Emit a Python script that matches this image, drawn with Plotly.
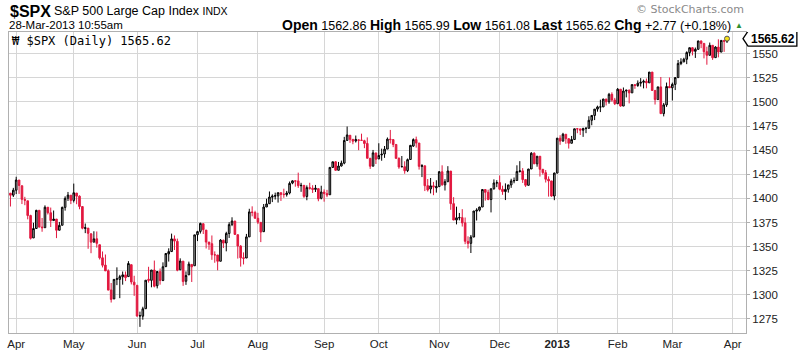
import pandas as pd
import plotly.graph_objects as go

# ---------------- data (S&P 500 daily, 29-Mar-2012 .. 28-Mar-2013) ----------------
start_date = "2012-03-29"
end_date = "2013-03-28"
holidays = ["2012-04-06", "2012-05-28", "2012-07-04", "2012-09-03", "2012-10-29",
            "2012-10-30", "2012-11-22", "2012-12-25", "2013-01-01", "2013-01-21",
            "2013-02-18"]
prev_close_start = 1405.54

opens = [
 1405.39,1403.31,1408.47,1418.98,1413.09,1398.79,1397.45,1382.18,1358.98,1368.77,
 1387.61,1370.27,1369.57,1390.78,1385.08,1376.96,1378.53,1366.97,1372.11,1390.64,
 1400.19,1403.26,1397.86,1405.50,1402.32,1391.51,1368.79,1369.16,1363.20,1354.58,
 1358.11,1351.93,1338.36,1330.78,1324.82,1305.05,1295.73,1316.09,1316.02,1318.72,
 1320.64,1318.90,1331.25,1313.09,1309.87,1278.29,1277.82,1285.61,1316.15,1314.99,
 1325.72,1309.40,1324.02,1314.88,1329.19,1342.42,1344.83,1357.98,1355.43,1325.92,
 1334.90,1314.09,1320.71,1331.52,1330.12,1362.33,1365.75,1373.72,1367.09,1354.66,
 1352.96,1341.40,1341.29,1334.81,1356.50,1353.68,1363.58,1373.01,1376.51,1362.34,
 1350.52,1338.35,1338.17,1360.05,1385.94,1385.27,1379.32,1375.13,1365.45,1391.04,
 1394.46,1401.23,1402.26,1402.58,1405.87,1404.36,1403.89,1405.57,1415.84,1417.85,
 1418.13,1413.09,1413.49,1401.99,1411.13,1410.44,1409.32,1410.08,1400.07,1406.54,
 1404.94,1403.74,1432.12,1437.92,1429.13,1433.56,1436.56,1460.07,1465.42,1461.19,
 1459.50,1460.56,1460.34,1459.76,1456.94,1441.60,1433.36,1447.13,1440.90,1444.99,
 1446.05,1451.08,1461.40,1460.93,1455.90,1441.48,1432.82,1432.84,1428.75,1440.31,
 1454.22,1460.94,1457.34,1433.21,1433.74,1413.20,1409.74,1412.97,1410.99,1412.20,
 1427.59,1414.02,1417.26,1428.27,1394.53,1377.55,1379.86,1380.03,1374.64,1355.41,
 1353.36,1359.88,1386.82,1387.79,1391.03,1409.15,1406.29,1398.77,1409.96,1415.95,
 1416.34,1409.46,1407.05,1409.43,1413.95,1418.07,1418.55,1427.84,1428.48,1419.45,
 1413.54,1430.47,1446.79,1435.81,1443.67,1430.15,1426.66,1419.83,1418.10,1402.43,
 1426.19,1462.42,1459.37,1466.47,1461.89,1457.15,1461.02,1472.12,1472.05,1470.67,
 1472.33,1472.63,1480.95,1485.98,1492.56,1494.81,1494.82,1502.96,1500.18,1507.84,
 1501.96,1498.11,1513.17,1495.71,1511.29,1512.12,1509.39,1517.93,1517.01,1519.43,
 1520.33,1521.38,1519.79,1530.94,1511.95,1502.42,1515.60,1487.85,1496.94,1515.99,
 1514.68,1518.20,1525.20,1539.79,1541.46,1544.26,1551.15,1556.22,1552.48,1554.52,
 1563.21,1560.70,1552.10,1548.34,1558.71,1545.90,1556.89,1551.69,1563.75,1562.86]

highs = [
 1405.39,1410.89,1422.38,1419.00,1413.09,1401.60,1397.45,1383.01,1374.71,1388.13,
 1387.61,1379.66,1392.76,1390.78,1390.46,1387.40,1378.53,1375.57,1391.37,1402.09,
 1406.64,1403.26,1415.32,1405.50,1403.07,1391.51,1373.91,1369.16,1363.73,1365.88,
 1365.66,1351.93,1344.94,1341.78,1326.36,1312.24,1316.39,1328.49,1320.71,1324.14,
 1324.20,1334.93,1331.25,1319.74,1309.87,1282.55,1287.62,1315.13,1329.05,1325.81,
 1335.52,1324.31,1327.28,1333.68,1343.32,1348.22,1363.46,1361.57,1358.27,1337.82,
 1334.90,1324.24,1334.40,1331.52,1362.17,1366.35,1374.81,1373.85,1367.09,1354.87,
 1361.54,1345.00,1341.29,1357.70,1357.26,1365.36,1375.26,1380.39,1376.51,1362.34,
 1351.53,1343.98,1363.13,1389.19,1391.74,1387.16,1385.03,1375.13,1394.16,1399.63,
 1407.14,1404.14,1405.95,1405.98,1405.87,1410.03,1407.73,1417.44,1418.71,1418.13,
 1426.68,1416.12,1413.49,1413.46,1416.17,1413.63,1413.95,1410.08,1413.09,1409.31,
 1408.81,1432.12,1437.92,1438.74,1437.76,1439.15,1463.76,1474.51,1465.63,1461.47,
 1465.15,1461.23,1467.07,1460.72,1463.24,1441.60,1450.20,1447.13,1457.14,1451.52,
 1454.30,1463.14,1470.96,1460.93,1455.90,1442.52,1443.90,1438.43,1441.31,1455.51,
 1462.20,1464.02,1457.34,1435.46,1433.74,1420.04,1421.12,1417.09,1418.76,1428.35,
 1434.27,1419.90,1433.38,1428.27,1401.23,1391.39,1384.87,1388.81,1380.13,1360.62,
 1362.03,1386.89,1389.77,1391.25,1409.16,1409.15,1409.01,1410.31,1419.70,1418.86,
 1423.73,1413.14,1415.56,1413.95,1420.34,1421.64,1434.27,1438.59,1431.36,1419.45,
 1430.67,1448.00,1447.75,1443.70,1443.67,1430.15,1429.42,1422.80,1418.10,1426.74,
 1462.43,1465.47,1467.94,1466.47,1461.89,1464.73,1472.30,1472.75,1472.05,1473.31,
 1473.96,1485.16,1485.98,1492.56,1496.13,1502.27,1503.26,1503.23,1509.35,1509.94,
 1504.19,1514.41,1513.17,1514.96,1512.53,1512.90,1518.31,1518.31,1522.29,1524.69,
 1523.14,1524.24,1530.94,1530.94,1511.95,1515.64,1525.84,1498.99,1520.08,1525.34,
 1519.99,1525.27,1543.47,1545.25,1545.78,1552.48,1556.27,1556.77,1556.39,1563.32,
 1563.62,1560.70,1557.25,1561.56,1558.71,1557.74,1564.91,1563.95,1564.07,1565.99]

lows = [
 1391.56,1401.42,1404.46,1404.62,1394.09,1392.92,1378.24,1357.38,1358.98,1368.77,
 1369.85,1365.38,1369.57,1383.29,1370.30,1376.96,1358.79,1366.82,1372.11,1387.28,
 1397.31,1394.00,1395.73,1393.92,1388.71,1367.96,1363.94,1347.75,1343.13,1354.58,
 1348.89,1336.61,1328.41,1324.79,1304.86,1291.98,1295.73,1310.04,1296.53,1310.50,
 1314.23,1318.90,1310.76,1298.90,1277.25,1266.74,1274.16,1285.61,1312.68,1307.77,
 1307.73,1306.62,1310.51,1314.14,1329.19,1334.46,1344.83,1346.45,1324.41,1325.92,
 1309.27,1310.30,1320.71,1313.29,1330.12,1355.70,1363.53,1363.02,1348.03,1346.65,
 1336.27,1333.25,1325.41,1334.81,1348.51,1345.07,1358.96,1371.21,1362.19,1337.56,
 1329.24,1331.50,1338.17,1360.05,1381.37,1379.17,1373.35,1354.65,1365.45,1391.04,
 1394.46,1396.13,1398.80,1395.62,1397.32,1400.60,1401.83,1404.15,1414.67,1412.12,
 1410.86,1406.78,1400.50,1398.04,1409.11,1405.59,1406.57,1397.01,1398.96,1396.56,
 1401.25,1403.74,1431.45,1428.98,1429.13,1432.99,1435.34,1460.07,1457.55,1456.13,
 1457.88,1449.98,1459.51,1452.06,1441.59,1430.53,1433.36,1435.60,1440.90,1439.01,
 1441.99,1451.08,1456.89,1453.10,1441.18,1430.64,1432.82,1425.53,1427.24,1440.31,
 1453.35,1452.63,1429.85,1422.06,1407.56,1407.10,1405.14,1403.28,1405.95,1412.20,
 1412.91,1408.13,1417.26,1388.14,1377.51,1373.03,1377.19,1370.78,1352.50,1348.05,
 1343.35,1359.88,1377.04,1386.39,1391.03,1397.68,1398.03,1385.43,1409.04,1411.63,
 1408.46,1403.65,1398.23,1405.93,1410.90,1415.64,1418.55,1426.76,1416.00,1411.88,
 1413.54,1430.47,1435.80,1432.82,1422.58,1424.66,1416.43,1401.80,1401.58,1398.11,
 1426.19,1455.53,1458.99,1456.62,1451.64,1457.15,1461.02,1467.58,1465.69,1463.76,
 1467.60,1472.63,1475.81,1481.16,1489.90,1489.46,1494.82,1496.33,1498.09,1500.11,
 1496.76,1498.11,1495.02,1495.71,1504.71,1498.49,1509.39,1513.61,1515.61,1515.93,
 1514.02,1514.14,1519.79,1511.41,1497.29,1502.42,1487.85,1485.01,1494.88,1514.46,
 1501.48,1512.29,1525.20,1538.11,1541.46,1539.19,1547.36,1548.24,1545.59,1554.52,
 1555.74,1545.13,1538.57,1548.34,1543.55,1545.90,1546.22,1551.69,1551.90,1561.08]

closes = [
 1403.28,1408.47,1419.04,1413.38,1398.96,1398.08,1382.20,1358.59,1368.71,1387.57,
 1370.26,1369.57,1390.78,1385.14,1376.92,1378.53,1366.94,1371.97,1390.69,1399.98,
 1403.36,1397.91,1405.82,1402.31,1391.57,1369.10,1369.58,1363.72,1354.58,1357.99,
 1353.39,1338.35,1330.66,1324.80,1304.86,1295.22,1315.99,1316.63,1318.86,1320.68,
 1317.82,1332.42,1313.32,1310.33,1278.04,1278.18,1285.50,1315.13,1314.99,1325.66,
 1308.93,1324.18,1314.88,1329.10,1342.84,1344.78,1357.98,1355.69,1325.51,1335.02,
 1313.72,1319.99,1331.85,1329.04,1362.16,1365.51,1374.02,1367.58,1354.68,1352.46,
 1341.47,1341.45,1334.76,1356.78,1353.64,1363.67,1372.78,1376.51,1362.66,1350.52,
 1338.31,1337.89,1360.02,1385.97,1385.30,1379.32,1375.32,1365.00,1390.99,1394.23,
 1401.35,1402.22,1402.80,1405.87,1404.11,1403.93,1405.53,1415.51,1418.16,1418.13,
 1413.17,1413.49,1402.08,1411.13,1410.44,1409.30,1410.49,1399.48,1406.58,1404.94,
 1403.44,1432.12,1437.92,1429.08,1433.56,1436.56,1459.99,1465.77,1461.19,1459.32,
 1461.05,1460.26,1460.15,1456.89,1441.59,1433.32,1447.15,1440.67,1444.49,1445.75,
 1450.99,1461.40,1460.93,1455.88,1441.48,1432.56,1432.84,1428.59,1440.13,1454.92,
 1460.91,1457.34,1433.19,1433.82,1413.11,1408.75,1412.97,1411.94,1412.16,1427.59,
 1414.20,1417.26,1428.39,1394.53,1377.51,1379.85,1380.03,1374.53,1355.49,1353.33,
 1359.88,1386.89,1387.81,1391.03,1409.15,1406.29,1398.94,1409.93,1415.95,1416.18,
 1409.46,1407.05,1409.28,1413.94,1418.07,1418.55,1427.84,1428.48,1419.45,1413.58,
 1430.36,1446.79,1435.81,1443.69,1430.15,1426.66,1419.83,1418.10,1402.43,1426.19,
 1462.42,1459.37,1466.47,1461.89,1457.15,1461.02,1472.12,1472.05,1470.68,1472.34,
 1472.63,1480.94,1485.98,1492.56,1494.81,1494.82,1502.96,1500.18,1507.84,1501.96,
 1498.11,1513.17,1495.71,1511.29,1512.12,1509.39,1517.93,1517.01,1519.43,1520.33,
 1521.38,1519.79,1530.94,1511.95,1502.42,1515.60,1487.85,1496.94,1515.99,1514.68,
 1518.20,1525.20,1539.79,1541.46,1544.26,1551.18,1556.22,1552.48,1554.52,1563.23,
 1560.70,1552.10,1548.34,1558.71,1545.80,1556.89,1551.69,1563.77,1562.85,1565.62]

month_labels = ["Apr", "May", "Jun", "Jul", "Aug", "Sep", "Oct", "Nov", "Dec",
                "<b>2013</b>", "Feb", "Mar", "Apr"]
y_ticks = [1275, 1300, 1325, 1350, 1375, 1400, 1425, 1450, 1475, 1500, 1525, 1550]

# ---------------- derived ----------------
bdays = pd.bdate_range(start_date, "2013-04-05")
bdays = bdays[~bdays.isin(pd.to_datetime(holidays))]
all_days = list(bdays)
dates = [d for d in all_days if d <= pd.Timestamp(end_date)]
n = len(closes)
assert len(dates) == n == len(opens) == len(highs) == len(lows)
idx = list(range(n))

# first trading day of each month (after the partial first month)
tickvals = [i for i in range(1, len(all_days)) if all_days[i].month != all_days[i - 1].month]
tickvals = tickvals[:len(month_labels)]

prev = [prev_close_start] + closes[:-1]
up = [i for i in idx if closes[i] >= prev[i]]
dn = [i for i in idx if closes[i] < prev[i]]

RED = "#e2183f"

def sub(lst, ii):
    return [lst[i] for i in ii]

fig = go.Figure()
fig.add_trace(go.Candlestick(
    x=up, open=sub(opens, up), high=sub(highs, up), low=sub(lows, up), close=sub(closes, up),
    increasing=dict(line=dict(color="#000000", width=1), fillcolor="#a8a8a8"),
    decreasing=dict(line=dict(color="#000000", width=1), fillcolor="#000000"),
    whiskerwidth=0, showlegend=False, hoverinfo="skip"))
fig.add_trace(go.Candlestick(
    x=dn, open=sub(opens, dn), high=sub(highs, dn), low=sub(lows, dn), close=sub(closes, dn),
    increasing=dict(line=dict(color=RED, width=1), fillcolor="#f3a3b3"),
    decreasing=dict(line=dict(color=RED, width=1), fillcolor=RED),
    whiskerwidth=0, showlegend=False, hoverinfo="skip"))
fig.add_trace(go.Scatter(x=[idx[-1]], y=[closes[-1]], mode="markers",
                         marker=dict(color="#f5e11a", size=5, line=dict(color="#555", width=1)),
                         showlegend=False, hoverinfo="skip"))

L, R, T, B = 7, 746, 32, 337
W, H = 800, 357

def xp(px):
    return (px - L) / (R - L)

def yp(py):
    return (B - py) / (B - T)

font = "Liberation Sans, Arial, sans-serif"
ann = [
    dict(x=xp(6), y=yp(11), text="<b>$SPX</b>", font=dict(size=16, color="#000", family=font),
         xanchor="left", yanchor="middle"),
    dict(x=xp(50), y=yp(11), text="S&amp;P 500 Large Cap Index <span style='font-size:10.5px'>INDX</span>",
         font=dict(size=12.5, color="#000", family=font), xanchor="left", yanchor="middle"),
    dict(x=xp(5), y=yp(25), text="28-Mar-2013 10:55am", font=dict(size=11.5, color="#000", family=font),
         xanchor="left", yanchor="middle"),
    dict(x=xp(733), y=yp(25),
         text="<b style='font-size:14px'>Open</b> 1562.86 <b style='font-size:14px'>High</b> 1565.99 "
              "<b style='font-size:14px'>Low</b> 1561.08 <b style='font-size:14px'>Last</b> 1565.62 "
              "<b style='font-size:14px'>Chg</b> +2.77 (+0.18%)",
         font=dict(size=12.5, color="#000", family=font), xanchor="right", yanchor="middle"),
    dict(x=xp(739), y=yp(25), text="▲", font=dict(size=8, color="#2f8f2f", family=font),
         xanchor="center", yanchor="middle"),
    dict(x=xp(746), y=yp(9), text="© StockCharts.com", font=dict(size=11, color="#8a8a8a", family="DejaVu Sans, sans-serif"),
         xanchor="right", yanchor="middle"),
    dict(x=xp(8), y=yp(41), text="₩ $SPX (Daily) 1565.62",
         font=dict(size=12, color="#000", family="DejaVu Sans Mono, monospace"),
         xanchor="left", yanchor="middle"),
    dict(x=xp(749), xref="paper", y=closes[-1], yref="y", text="<b>1565.62</b>",
         font=dict(size=12, color="#000", family=font), xanchor="left", yanchor="middle"),
]
for a in ann:
    a.setdefault("xref", "paper")
    a.setdefault("yref", "paper")
    a["showarrow"] = False

ppu = (B - T) / (1572.5 - 1260.4)
hh = 7.5 / ppu
shapes = [
    dict(type="path", xref="paper", yref="y",
         path=(f"M {xp(743)},{closes[-1]} L {xp(748)},{closes[-1]+hh} L {xp(797)},{closes[-1]+hh} "
               f"L {xp(797)},{closes[-1]-hh} L {xp(748)},{closes[-1]-hh} Z"),
         line=dict(color="#000", width=1.3), fillcolor="#fff", layer="above"),
]

fig.update_layout(
    width=W, height=H,
    margin=dict(l=L, r=W - R, t=T, b=H - B),
    paper_bgcolor="#ffffff", plot_bgcolor="#ffffff",
    annotations=ann, shapes=shapes,
    showlegend=False, boxgap=0.2,
)
fig.update_xaxes(
    range=[-0.5, 255.6], tickvals=tickvals, ticktext=month_labels,
    showgrid=True, gridcolor="#d6d6d6", gridwidth=1,
    showline=True, linecolor="#b0b0b0", mirror=True,
    ticks="", tickfont=dict(size=11.5, color="#222", family=font),
    rangeslider=dict(visible=False), zeroline=False,
)
fig.update_yaxes(
    range=[1260.4, 1572.5], tickvals=y_ticks, side="right",
    showgrid=True, gridcolor="#d6d6d6", gridwidth=1,
    showline=True, linecolor="#b0b0b0", mirror=True,
    ticks="outside", ticklen=3, tickcolor="#b0b0b0",
    tickfont=dict(size=11.5, color="#222", family=font), zeroline=False,
)

fig.write_html("out.html", config={"displayModeBar": False},
               post_script="document.body.style.margin='0';")
